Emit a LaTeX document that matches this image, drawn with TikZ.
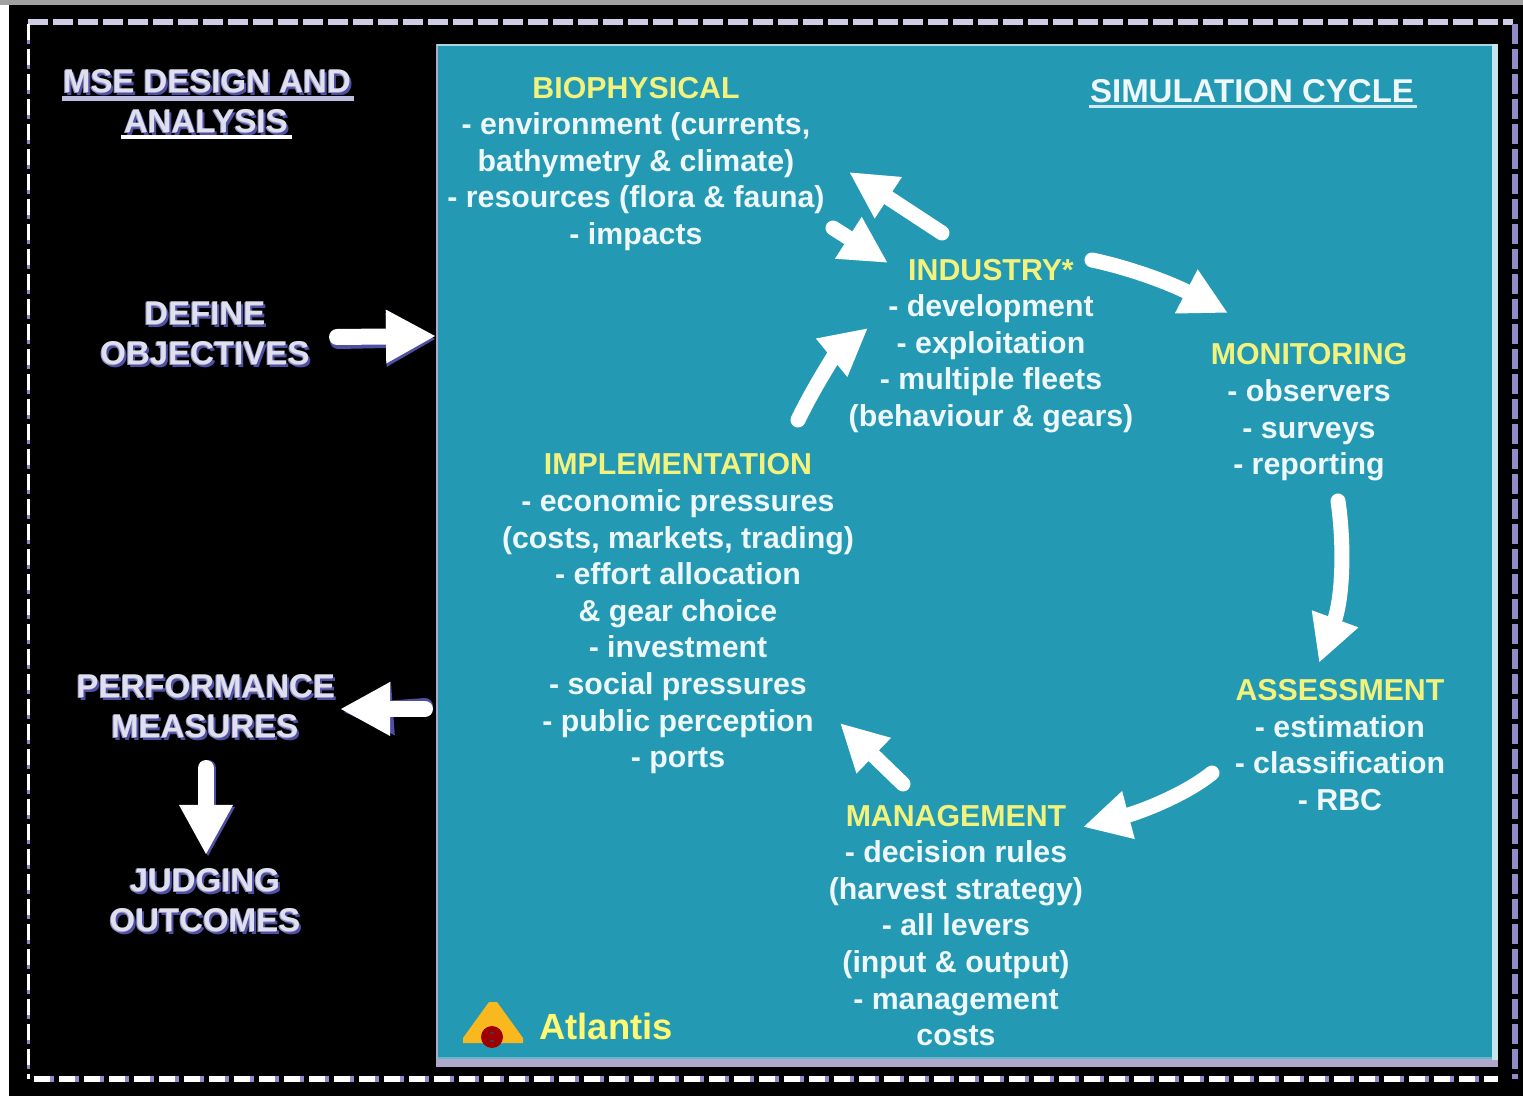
\documentclass[tikz,border=0pt]{standalone}
\usepackage{fontspec}
\setmainfont{Liberation Sans}
\usetikzlibrary{arrows.meta}
\definecolor{tealbg}{HTML}{2399B3}
\definecolor{hdr}{HTML}{F2F27C}
\definecolor{bodytx}{HTML}{EEF7F9}
\definecolor{shad}{HTML}{4F4FA3}
\definecolor{lav}{HTML}{CFCDE6}
\definecolor{lavd}{HTML}{8F8CC8}
\definecolor{strip}{HTML}{B0A7CC}
\tikzset{
  blocktext/.style={align=center,inner sep=0pt,text=bodytx,font=\bfseries\fontsize{15.15}{18.3}\selectfont},
  lefttext/.style={align=center,inner sep=0pt,font=\bfseries\fontsize{16.5}{20}\selectfont},
  cyc/.style={white,draw=white,line width=7.5pt,line cap=round,-{Triangle[length=23.5pt,width=23pt]}},
  sidearrow/.style={line width=8pt,line cap=round,-{Triangle[length=25pt,width=25pt]}},
}
\newcommand{\shadowtext}[4]{%
  \node[lefttext,text=shad] (#1s) at (#2+2,#3+3) {#4};
  \node[lefttext,text=shad!60!white] (#1m) at (#2-1,#3+1) {#4};
  \node[lefttext,text=white!82!shad] (#1) at (#2,#3) {#4};}
\newcommand{\hd}[1]{\textcolor{hdr}{#1}}
\begin{document}
\begin{tikzpicture}[x=0.5pt,y=-0.5pt]
\useasboundingbox (0,0) rectangle (1523,1096);
% page edges
\fill[white] (0,0) rectangle (1523,1096);
\fill[black] (9,5) rectangle (1523,1096);
\fill[black!37] (0,0) rectangle (1523,5);
% dashed frame
\draw[lav,line width=2.6pt,dash pattern=on 10pt off 2.5pt] (28,22) -- (1513,22);
\draw[lavd,line width=3pt,dash pattern=on 10pt off 2.5pt] (1515,24) -- (1515,1079);
\draw[lavd,line width=2.6pt,dash pattern=on 10pt off 2.5pt] (34,1079) -- (1498,1079);
\draw[white,line width=2.6pt,dash pattern=on 8pt off 4.5pt] (34,1079) -- (1498,1079);
\draw[lavd,line width=1.5pt,dash pattern=on 10pt off 2.5pt] (28,24) -- (28,1079);
\draw[white,line width=1.5pt,dash pattern=on 8pt off 4.5pt] (28,24) -- (28,1079);
% teal panel
\fill[strip] (436,44) rectangle (1498,1067);
\fill[white!60!tealbg] (437,44) rectangle (1498,46);
\fill[white!75!tealbg] (1492,44) rectangle (1498,1060);
\fill[white!30!tealbg] (438,46) rectangle (1492,1059);
\fill[tealbg] (438,46) rectangle (1492,1057);
% left column
\shadowtext{tmse}{207}{81}{MSE DESIGN AND}
\shadowtext{tana}{206}{121}{ANALYSIS}
\fill[lav!75!lavd] (62,96) rectangle (354,101);
\fill[white] (121,135) rectangle (292,139);
\shadowtext{tdef}{205}{313}{DEFINE}
\shadowtext{tobj}{205}{353}{OBJECTIVES}
\shadowtext{tperf}{206}{686}{PERFORMANCE}
\shadowtext{tmeas}{205}{726}{MEASURES}
\shadowtext{tjudg}{205}{880}{JUDGING}
\shadowtext{tout}{205}{920}{OUTCOMES}
\coordinate (defA) at (337,337);
\coordinate (defB) at (436,336);
\coordinate (perfA) at (425,709);
\coordinate (perfB) at (340,709);
\coordinate (downA) at (206,768);
\coordinate (downB) at (206,855);
\draw[sidearrow,shad] ([shift={(1,4)}]defA) -- ([shift={(0,3)}]defB);
\draw[sidearrow,white] (defA) -- (defB);
\draw[sidearrow,shad] ([shift={(0,-3)}]perfA) -- ([shift={(3,3)}]perfB);
\draw[sidearrow,white] (perfA) -- (perfB);
\draw[sidearrow,shad] ([shift={(2,0)}]downA) -- ([shift={(2,2)}]downB);
\draw[sidearrow,white] (downA) -- (downB);
% panel texts
\node[font=\fontsize{16.5}{20}\selectfont\bfseries,text=bodytx,inner sep=0pt] (sim) at (1252,91) {SIMULATION CYCLE};
\fill[white!80!tealbg] (1089,105) rectangle (1417,108);
\node[blocktext] (bio) at (636,164) {\strut\hd{BIOPHYSICAL}\\\strut- environment (currents,\\\strut bathymetry \& climate)\\\strut- resources (flora \& fauna)\\\strut- impacts};
\node[blocktext] (ind) at (991,346) {\strut\hd{INDUSTRY*}\\\strut- development\\\strut- exploitation\\\strut- multiple fleets\\\strut(behaviour \& gears)};
\node[blocktext] (mon) at (1309,412.5) {\strut\hd{MONITORING}\\\strut- observers\\\strut- surveys\\\strut- reporting};
\node[blocktext] (ass) at (1340,748) {\strut\hd{ASSESSMENT}\\\strut- estimation\\\strut- classification\\\strut- RBC};
\node[blocktext] (man) at (956,928.5) {\strut\hd{MANAGEMENT}\\\strut- decision rules\\\strut(harvest strategy)\\\strut- all levers\\\strut(input \& output)\\\strut- management\\\strut costs};
\node[blocktext] (imp) at (678,614) {\strut\hd{IMPLEMENTATION}\\\strut- economic pressures\\\strut(costs, markets, trading)\\\strut- effort allocation\\\strut\& gear choice\\\strut- investment\\\strut- social pressures\\\strut- public perception\\\strut- ports};
% cycle arrows
\coordinate (a1) at (942,233); \coordinate (b1) at (849,172);
\coordinate (a2) at (833,228); \coordinate (b2) at (888,263);
\coordinate (a3) at (1092,260); \coordinate (b3) at (1228,313);
\coordinate (a4) at (1338,501); \coordinate (b4) at (1319,663);
\coordinate (a5) at (1212,773); \coordinate (b5) at (1083,827);
\coordinate (a6) at (903,784); \coordinate (b6) at (840,723);
\coordinate (a7) at (798,420); \coordinate (b7) at (868,328);
\draw[cyc] (a1) -- (b1);
\draw[cyc] (a2) -- (b2);
\draw[cyc] (a3) .. controls (1130,268) and (1170,283) .. (b3);
\draw[cyc] (a4) .. controls (1345,550) and (1342,600) .. (b4);
\draw[cyc] (a5) .. controls (1185,795) and (1140,812) .. (b5);
\draw[cyc] (a6) -- (b6);
\draw[cyc] (a7) .. controls (815,385) and (835,355) .. (b7);
% logo
\fill[yellow!40!orange!90!white] (463,1043) -- (463,1038) -- (489,1002) -- (497,1002) -- (523,1038) -- (523,1043) -- cycle;
\fill[red!62!black] (492,1037) circle[radius=11];
\fill[tealbg!60!red!60!black] (490,1032) rectangle (494,1034);
\fill[tealbg!60!red!60!black] (490,1040) rectangle (494,1042);
\node[inner sep=0pt,anchor=west,text=yellow!55!white,font=\bfseries\fontsize{18.2}{20}\selectfont] (atl) at (539,1026) {Atlantis};
\end{tikzpicture}
\end{document}
